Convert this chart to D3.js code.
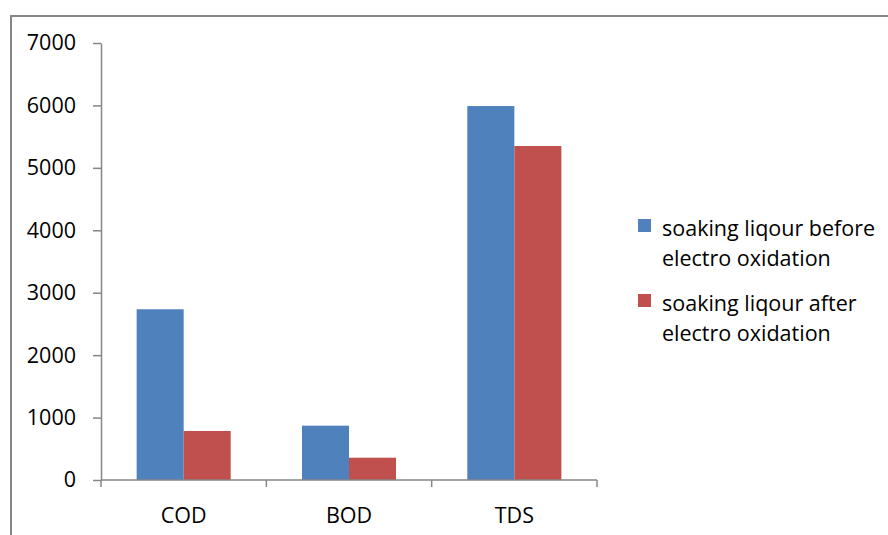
<!DOCTYPE html>
<html>
<head>
<meta charset="utf-8">
<script src="https://cdn.jsdelivr.net/npm/d3@7"></script>
<style>
  html, body { margin: 0; padding: 0; background: #fff; }
  svg { display: block; }
  text { fill: #000; font-variant-ligatures: none; }
</style>
</head>
<body>
<svg id="chart" width="888" height="535"></svg>
<script>
// Wastewater parameters of soaking liquor, before and after electro oxidation
const categories = ["COD", "BOD", "TDS"];
const seriesNames = [
  "soaking liqour before electro oxidation",
  "soaking liqour after electro oxidation"
];
const beforeValues = [2735, 870, 5990];
const afterValues = [785, 357, 5350];
const yTicks = [0, 1000, 2000, 3000, 4000, 5000, 6000, 7000];
const legendLines = [
  ["soaking liqour before", "electro oxidation"],
  ["soaking liqour after", "electro oxidation"]
];
const colors = ["#4f81bd", "#c0504d"];

const svg = d3.select("#chart");
const axisColor = "#868686";
const textFont = "'Open Sans', sans-serif";
const textSize = "21.5px";

// outer chart frame (open to the right and bottom)
svg.append("path")
  .attr("d", "M11,540 L11,16 L900,16")
  .attr("fill", "none")
  .attr("stroke", axisColor)
  .attr("stroke-width", 2);

const plot = { left: 101, right: 597, top: 43, bottom: 480 };

const x = d3.scaleBand()
  .domain(categories)
  .range([plot.left, plot.right])
  .paddingInner(0)
  .paddingOuter(0);

const xs = d3.scaleBand()
  .domain(seriesNames)
  .range([0, x.bandwidth()])
  .paddingInner(0)
  .paddingOuter(0.758);

const y = d3.scaleLinear()
  .domain([0, 7000])
  .range([plot.bottom, plot.top]);

const rows = categories.map((c, i) => ({
  category: c,
  values: [beforeValues[i], afterValues[i]]
}));

// bars
const groups = svg.append("g").selectAll("g")
  .data(rows)
  .join("g")
  .attr("transform", d => `translate(${x(d.category)},0)`);

groups.selectAll("rect")
  .data(d => d.values.map((v, j) => ({ v, j })))
  .join("rect")
  .attr("x", d => xs(seriesNames[d.j]))
  .attr("width", xs.bandwidth())
  .attr("y", d => y(d.v))
  .attr("height", d => y(0) - y(d.v))
  .attr("fill", d => colors[d.j]);

// y axis
const yAxis = svg.append("g")
  .attr("transform", `translate(${plot.left},0)`)
  .call(d3.axisLeft(y).tickValues(yTicks).tickSize(8).tickSizeOuter(0).tickPadding(17).tickFormat(d3.format("d")));
yAxis.select(".domain").attr("stroke", axisColor).attr("stroke-width", 1.5);
yAxis.selectAll(".tick line").attr("stroke", axisColor).attr("stroke-width", 1.5);
yAxis.selectAll(".tick text")
  .style("font-family", textFont)
  .style("font-size", textSize)
  .attr("fill", "#000");

// x axis with boundary ticks between categories
const xAxisG = svg.append("g").attr("transform", `translate(0,${plot.bottom})`);
xAxisG.append("line")
  .attr("x1", plot.left).attr("x2", plot.right)
  .attr("stroke", axisColor).attr("stroke-width", 1.5);
const boundaries = categories.map(c => x(c)).concat([x(categories[categories.length - 1]) + x.bandwidth()]);
xAxisG.selectAll("line.tk")
  .data(boundaries)
  .join("line")
  .attr("class", "tk")
  .attr("x1", d => d).attr("x2", d => d)
  .attr("y1", 0).attr("y2", 7)
  .attr("stroke", axisColor).attr("stroke-width", 1.5);
xAxisG.selectAll("text")
  .data(categories)
  .join("text")
  .attr("x", d => x(d) + x.bandwidth() / 2)
  .attr("y", 43)
  .attr("text-anchor", "middle")
  .style("font-family", textFont)
  .style("font-size", textSize)
  .text(d => d);

// legend
const legend = svg.append("g").attr("transform", "translate(638,219)");
const items = legend.selectAll("g")
  .data(seriesNames)
  .join("g")
  .attr("transform", (d, i) => `translate(0,${i * 75})`);
items.append("rect")
  .attr("width", 13).attr("height", 13)
  .attr("fill", (d, i) => colors[i]);
items.each(function(d, i) {
  const t = d3.select(this).append("text")
    .attr("x", 24)
    .attr("y", 16.5)
    .style("font-family", textFont)
    .style("font-size", textSize);
  legendLines[i].forEach((line, k) => {
    t.append("tspan").attr("x", 24).attr("dy", k === 0 ? 0 : 30).text(line);
  });
});
</script>
</body>
</html>
